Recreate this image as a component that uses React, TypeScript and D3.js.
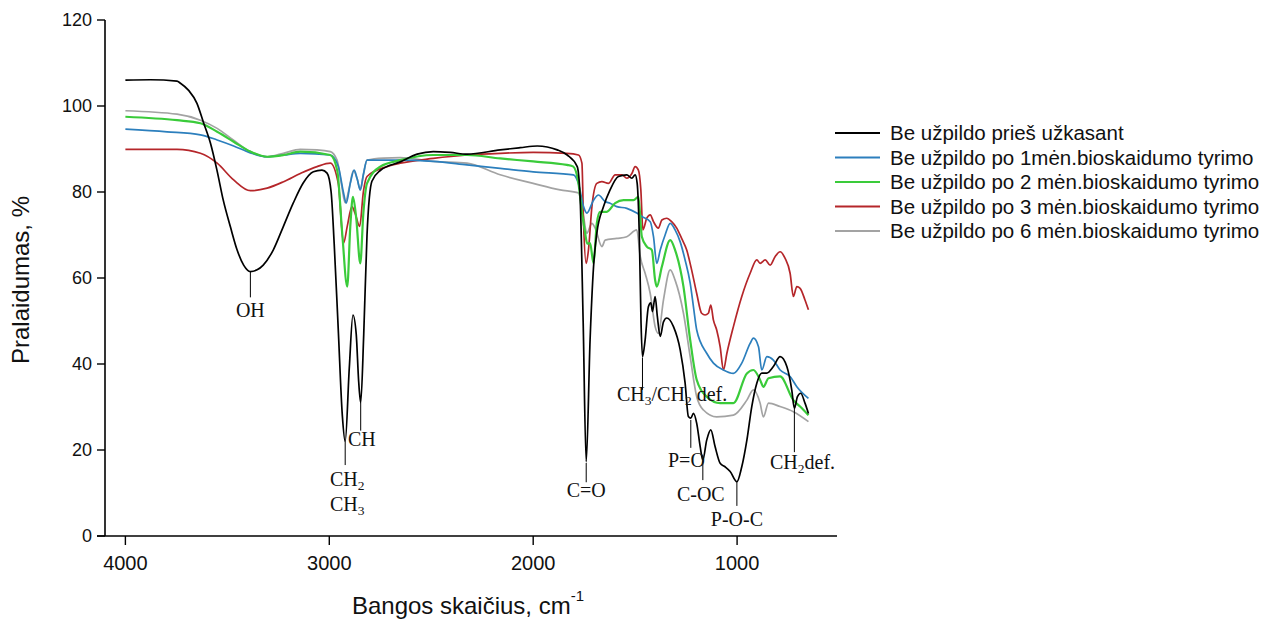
import React from "react";
import * as d3 from "d3";

const xTicks = [4000, 3000, 2000, 1000];
const yTicks = [0, 20, 40, 60, 80, 100, 120];

const seriesNames = [
  "Be užpildo prieš užkasant",
  "Be užpildo po 1mėn.bioskaidumo tyrimo",
  "Be užpildo po 2 mėn.bioskaidumo tyrimo",
  "Be užpildo po 3 mėn.bioskaidumo tyrimo",
  "Be užpildo po 6 mėn.bioskaidumo tyrimo",
];
const seriesColors = ["#000000", "#2c7fbd", "#3acb3a", "#b5262a", "#a3a3a3"];

// [wavenumber cm-1, transmittance %]
const blackData: [number, number][] = [
  [4000, 106.0], [3877, 106.1], [3747, 105.8], [3730, 105.3], [3691, 103.7], [3649, 100.6],
  [3618, 96.3], [3583, 91.4], [3551, 85.1], [3520, 78.1], [3485, 71.9], [3452, 66.5],
  [3420, 63.0], [3387, 61.5], [3354, 61.9], [3324, 63.0], [3275, 66.5], [3226, 71.9],
  [3177, 77.4], [3128, 82.1], [3078, 84.7], [3036, 85.1], [3011, 84.4], [2991, 80],
  [2976, 68], [2956, 48], [2936, 28], [2922, 22], [2902, 39], [2884, 51.4], [2868, 47],
  [2856, 36], [2846, 31], [2831, 47], [2815, 70], [2791, 82.5], [2750, 85], [2652, 87],
  [2569, 88.8], [2490, 89.4], [2407, 89.2], [2324, 88.8], [2162, 89.8], [2064, 90.3],
  [1980, 90.7], [1882, 89.8], [1833, 88.6], [1784, 85.9], [1770, 78.9], [1755, 50],
  [1740, 17.3], [1721, 45.6], [1704, 62.6], [1688, 70.4], [1655, 76.6], [1623, 80.5],
  [1582, 83.6], [1541, 84], [1516, 83.2], [1500, 84], [1490, 82], [1479, 68.8],
  [1471, 49.5], [1464, 41.7], [1451, 45.6], [1435, 53.3], [1423, 54.2], [1415, 52.2],
  [1402, 55.7], [1391, 51], [1377, 46.4], [1361, 49.8], [1345, 50.7], [1312, 48.7],
  [1279, 43.3], [1255, 35.6], [1239, 27.8], [1227, 27.4], [1214, 28.5], [1198, 26.2],
  [1181, 20.8], [1168, 17.7], [1149, 22.3], [1129, 24.7], [1108, 20.8], [1083, 16.9],
  [1059, 16.1], [1034, 15], [1001, 12.6], [977, 16.1], [952, 22.3], [928, 30.1],
  [903, 35.6], [879, 37.9], [854, 37.9], [822, 39.4], [789, 41.7], [756, 39.4],
  [732, 34], [719, 29.7], [704, 32.4], [688, 33.2], [667, 30.9], [650, 28.5],
];

const blueData: [number, number][] = [
  [4000, 94.6], [3796, 94], [3632, 93.3], [3550, 92.1], [3469, 90.7], [3387, 89.1],
  [3305, 88.2], [3224, 88.6], [3142, 89], [2995, 88.6], [2956, 86], [2931, 80],
  [2917, 77.4], [2897, 82], [2878, 85.1], [2863, 83], [2848, 80.5], [2833, 84],
  [2815, 87.4], [2652, 87.4], [2490, 87.1], [2325, 86.3], [2162, 85.5], [2000, 84.7],
  [1803, 84], [1778, 82], [1753, 76.6], [1737, 75.1], [1704, 78.1], [1680, 79.3],
  [1647, 77.8], [1623, 77.4], [1590, 76.6], [1541, 76.2], [1492, 75.1], [1467, 74.3],
  [1426, 73.1], [1410, 69.6], [1394, 63.4], [1377, 66.5], [1353, 70], [1328, 72.7],
  [1304, 71.2], [1279, 68.4], [1255, 64.2], [1230, 58.8], [1214, 53.3], [1198, 47.9],
  [1149, 42.5], [1116, 40.2], [1067, 38.6], [1018, 37.8], [977, 40.2], [936, 44.8],
  [920, 46], [895, 44], [879, 38.6], [854, 41.7], [822, 40.9], [789, 38.6], [740, 37.1],
  [707, 34.7], [650, 32],
];

const greenData: [number, number][] = [
  [4000, 97.5], [3747, 96.7], [3632, 96], [3550, 94], [3469, 91.7], [3387, 89.4],
  [3305, 88.2], [3224, 88.6], [3142, 89.4], [2995, 88.6], [2961, 85], [2936, 70],
  [2912, 58], [2897, 72], [2884, 78.9], [2868, 74], [2848, 63.4], [2833, 75], [2815, 82],
  [2750, 85.9], [2652, 87.4], [2490, 88.6], [2325, 88.6], [2162, 87.8], [2000, 87.1],
  [1835, 86.3], [1803, 85.9], [1778, 82], [1760, 75], [1745, 70.4], [1735, 68],
  [1721, 68.1], [1704, 63.4], [1688, 72.7], [1672, 75.4], [1639, 75.4], [1598, 77.4],
  [1557, 78.1], [1508, 78.1], [1484, 78.9], [1467, 69.6], [1443, 67.3], [1418, 66.5],
  [1402, 59.5], [1394, 58], [1369, 62.6], [1328, 68.8], [1304, 66.5], [1263, 58],
  [1230, 45.6], [1198, 36.3], [1149, 32.4], [1083, 30.9], [1018, 30.9], [952, 37.8],
  [920, 38.6], [887, 36.3], [871, 34.7], [846, 36.7], [789, 37.1], [724, 31.6],
  [691, 30.1], [650, 28.1],
];

const redData: [number, number][] = [
  [4000, 89.9], [3747, 89.9], [3632, 89], [3550, 86.7], [3469, 82.8], [3387, 80.3],
  [3305, 80.9], [3224, 82.4], [3142, 84.3], [3060, 85.9], [2995, 86.7], [2956, 82],
  [2930, 68.1], [2912, 72], [2889, 76.6], [2873, 75], [2851, 72], [2833, 80], [2815, 83.6],
  [2717, 85.9], [2652, 86.7], [2490, 87.8], [2325, 88.6], [2162, 89], [2000, 89.2],
  [1835, 89], [1778, 88.6], [1761, 86.7], [1753, 72.7], [1740, 63.4], [1729, 66.5],
  [1712, 76.6], [1688, 82], [1663, 82.4], [1631, 82], [1598, 84], [1565, 84], [1541, 83.2],
  [1516, 84.3], [1500, 85.9], [1484, 85.1], [1472, 80.5], [1462, 71.2], [1443, 73.9],
  [1426, 74.7], [1410, 73.1], [1386, 71.6], [1369, 73.5], [1345, 73.9], [1321, 73.1],
  [1296, 71.6], [1272, 69.2], [1247, 66.5], [1223, 61.9], [1198, 56.4], [1174, 51.8],
  [1157, 51.4], [1141, 51.8], [1129, 53.7], [1116, 50.2], [1100, 47.9], [1083, 44],
  [1067, 38.6], [1050, 42.5], [1018, 48.7], [977, 55.7], [936, 61.1], [903, 64.2],
  [887, 63.4], [862, 64.2], [838, 63], [813, 65], [789, 66.1], [765, 64.6], [740, 61.1],
  [724, 55.7], [707, 58], [691, 57.6], [667, 54.9], [650, 52.6],
];

const grayData: [number, number][] = [
  [4000, 98.9], [3747, 98.1], [3632, 96.7], [3550, 94.8], [3471, 92.1], [3387, 89.4],
  [3305, 88.2], [3225, 89], [3142, 89.9], [3060, 89.8], [2995, 89.4], [2962, 87.4],
  [2941, 82], [2922, 77.5], [2902, 81], [2882, 85], [2863, 83], [2848, 80.5], [2833, 84],
  [2815, 87.4], [2735, 87.9], [2652, 88], [2490, 87.1], [2325, 86.7], [2162, 84],
  [2000, 82], [1868, 80.5], [1778, 79.8], [1753, 74.3], [1737, 70.4], [1712, 72.7],
  [1696, 71.6], [1663, 67.3], [1647, 68.8], [1590, 69.2], [1541, 69.6], [1492, 71.2],
  [1475, 65], [1451, 61.1], [1426, 56.4], [1402, 48.7], [1386, 47.1], [1361, 54.9],
  [1328, 61.9], [1304, 59.5], [1263, 51.8], [1230, 41.7], [1198, 32.4], [1165, 29.3],
  [1100, 27.7], [1018, 28.1], [952, 31.6], [920, 34], [887, 30.9], [871, 27.7],
  [846, 30.9], [789, 30.1], [724, 28.9], [650, 26.6],
];

const seriesData = [blackData, blueData, greenData, redData, grayData];
const drawOrder = [4, 3, 1, 2, 0];

// annotation: wavenumber, line top %, line bottom %
const annWn = [3387, 2846, 2922, 1740, 1464, 1227, 1168, 1001, 719];
const annTop = [61.5, 31, 22, 17, 41.5, 27, 17.5, 12.5, 29.7];
const annBottom = [55.5, 24.5, 16.5, 12.5, 34, 20.5, 13, 7, 19.5];

export default function App() {
  const W = 1262;
  const H = 621;
  const x = d3.scaleLinear().domain([4100, 510]).range([105, 837]);
  const y = d3.scaleLinear().domain([0, 120]).range([536, 20]);
  const line = d3
    .line<[number, number]>()
    .x((d) => x(d[0]))
    .y((d) => y(d[1]))
    .curve(d3.curveMonotoneX);

  const sans = "Arial, 'Liberation Sans', sans-serif";
  const serif = "'Times New Roman', 'Liberation Serif', serif";
  const annSize = 20;
  const subSize = 13.5;

  return (
    <svg width={W} height={H} style={{ position: "absolute", left: 0, top: 0, background: "#fff" }}>
      <rect x={0} y={0} width={W} height={H} fill="#fff" />
      {/* axes */}
      <line x1={x.range()[0]} x2={x.range()[0]} y1={y(120)} y2={y(0)} stroke="#000" strokeWidth={1.6} />
      <line x1={x.range()[0] - 8} x2={x.range()[1]} y1={y(0)} y2={y(0)} stroke="#000" strokeWidth={1.6} />
      {yTicks.map((t) => (
        <g key={"y" + t}>
          <line x1={x.range()[0] - 8} x2={x.range()[0]} y1={y(t)} y2={y(t)} stroke="#000" strokeWidth={1.4} />
          <text x={x.range()[0] - 13} y={y(t)} dy="0.35em" textAnchor="end" fontFamily={sans} fontSize={18} fill="#111">
            {t}
          </text>
        </g>
      ))}
      {xTicks.map((t) => (
        <g key={"x" + t}>
          <line x1={x(t)} x2={x(t)} y1={y(0)} y2={y(0) + 9} stroke="#000" strokeWidth={1.4} />
          <text x={x(t)} y={570} textAnchor="middle" fontFamily={sans} fontSize={20} fill="#111">
            {t}
          </text>
        </g>
      ))}
      <text transform={`translate(29,${(y(0) + y(120)) / 2 + 2}) rotate(-90)`} textAnchor="middle" fontFamily={sans} fontSize={24} fill="#111">
        Pralaidumas, %
      </text>
      <text x={468} y={614} textAnchor="middle" fontFamily={sans} fontSize={24} fill="#111">
        Bangos skaičius, cm<tspan dy={-13} fontSize={15}>-1</tspan>
      </text>

      {/* series */}
      {drawOrder.map((i) => (
        <path key={"s" + i} d={line(seriesData[i]) || ""} fill="none" stroke={seriesColors[i]} strokeWidth={i === 2 ? 2.2 : 1.7} strokeLinejoin="round" />
      ))}

      {/* annotation lines */}
      {annWn.map((w, i) => (
        <line key={"a" + i} x1={x(w)} x2={x(w)} y1={y(annTop[i])} y2={y(annBottom[i])} stroke="#000" strokeWidth={1} />
      ))}
      <g fontFamily={serif} fontSize={annSize} fill="#111">
        <text x={x(annWn[0])} y={317} textAnchor="middle">OH</text>
        <text x={348} y={446}>CH</text>
        <text x={x(annWn[2]) + 2} y={486} textAnchor="middle">
          CH<tspan fontSize={subSize} dy={4}>2</tspan>
        </text>
        <text x={x(annWn[2]) + 2} y={511} textAnchor="middle">
          CH<tspan fontSize={subSize} dy={4}>3</tspan>
        </text>
        <text x={x(annWn[3])} y={497} textAnchor="middle">C=O</text>
        <text x={617} y={401}>
          CH<tspan fontSize={subSize} dy={4}>3</tspan>
          <tspan dy={-4}>/CH</tspan>
          <tspan fontSize={subSize} dy={4}>2</tspan>
          <tspan dy={-4}> def.</tspan>
        </text>
        <text x={668} y={467}>P=O</text>
        <text x={x(annWn[6]) - 2} y={501} textAnchor="middle">C-OC</text>
        <text x={x(annWn[7])} y={526} textAnchor="middle">P-O-C</text>
        <text x={770} y={469}>
          CH<tspan fontSize={subSize} dy={4}>2</tspan>
          <tspan dy={-4}>def.</tspan>
        </text>
      </g>

      {/* legend */}
      {seriesNames.map((n, i) => (
        <g key={"l" + i} transform={`translate(835,${133 + i * 24.5})`}>
          <line x1={0} x2={45} y1={0} y2={0} stroke={seriesColors[i]} strokeWidth={2} />
          <text x={55} y={0} dy="0.35em" fontFamily={sans} fontSize={20.5} fill="#111">
            {n}
          </text>
        </g>
      ))}
    </svg>
  );
}
